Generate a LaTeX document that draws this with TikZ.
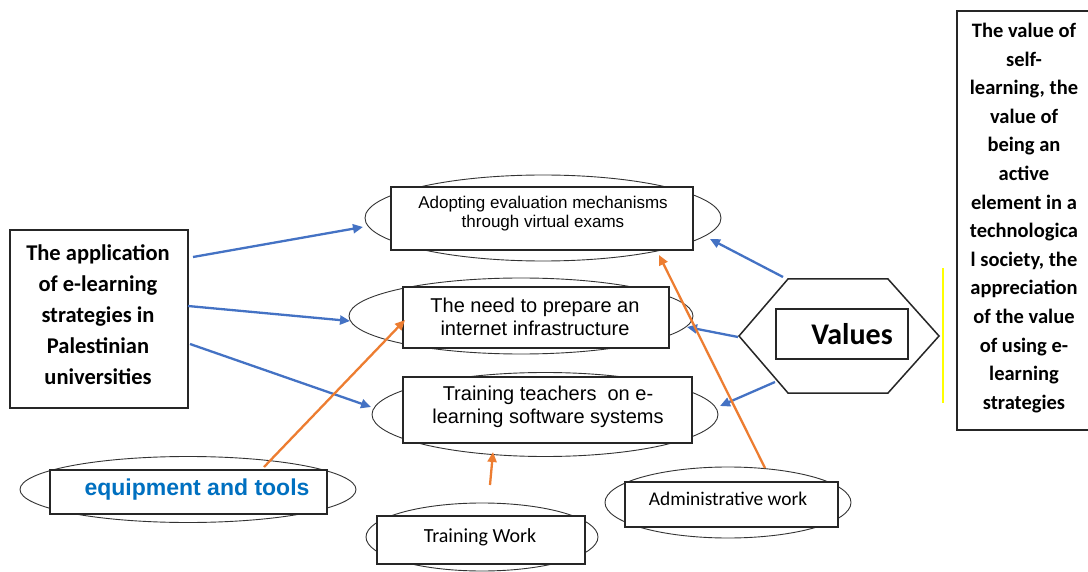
\documentclass[tikz,border=0pt]{standalone}
\usepackage{fontspec}
\newfontfamily\calfont{Carlito}
\newfontfamily\arfont{Liberation Sans}
\usetikzlibrary{shapes.geometric,arrows.meta}
\definecolor{arrowblue}{HTML}{4472C4}
\definecolor{arroworange}{HTML}{ED7D31}
\definecolor{toolblue}{HTML}{0070C0}
\definecolor{markyellow}{HTML}{FFFF00}
\begin{document}
\begin{tikzpicture}[x=1pt,y=-1pt,
  oval/.style={draw=black!80, line width=0.9pt, ellipse, inner sep=0pt},
  card/.style={draw=black!85, line width=1.2pt, fill=white, inner sep=0pt, align=center},
  txt/.style={inner sep=0pt, align=center},
  bluearrow/.style={draw=arrowblue, line width=2.3pt, -{Triangle[length=10pt,width=9pt]}},
  orangearrow/.style={draw=arroworange, line width=2.3pt, -{Triangle[length=10pt,width=9pt]}},
]
\useasboundingbox (0,0) rectangle (1088,572);
\fill[white] (0,0) rectangle (1088,572);

% left source box
\node[card, minimum width=178pt, minimum height=178pt] (app) at (99,319) {};
\node[txt, font=\calfont\bfseries\fontsize{22.5}{31}\selectfont] (apptxt) at (98,314.5)
  {The application\\of e-learning\\strategies in\\Palestinian\\universities};

% three central ovals
\node[oval, minimum width=356pt, minimum height=86pt] (evalov) at (543,218) {};
\node[card, minimum width=302pt, minimum height=63pt] (eval) at (542,218.5) {};
\node[txt, font=\arfont\fontsize{17}{19}\selectfont] (evaltxt) at (543,214)
  {Adopting evaluation mechanisms\\through virtual exams};

\node[oval, minimum width=344pt, minimum height=76pt] (netov) at (521,316) {};
\node[card, minimum width=266pt, minimum height=61pt] (net) at (536,317.5) {};
\node[txt, font=\arfont\fontsize{20}{23}\selectfont] (nettxt) at (535,316.5)
  {The need to prepare an\\internet infrastructure};

\node[oval, minimum width=346pt, minimum height=84pt] (trainov) at (545,414.5) {};
\node[card, minimum width=289pt, minimum height=66pt] (train) at (547.5,410) {};
\node[txt, font=\arfont\fontsize{20}{23}\selectfont] (traintxt) at (548,406.5)
  {Training teachers~ on e-\\learning software systems};

% bottom ovals
\node[oval, minimum width=336pt, minimum height=66pt] (toolov) at (188,489.5) {};
\node[card, minimum width=277pt, minimum height=44pt] (tool) at (188.5,492) {};
\node[txt, text=toolblue, font=\arfont\bfseries\fontsize{23}{26}\selectfont] (tooltxt) at (197,490) {equipment and tools};

\node[oval, minimum width=232pt, minimum height=68pt] (workov) at (482,537) {};
\node[card, minimum width=208pt, minimum height=48pt] (work) at (481,540) {};
\node[txt, font=\calfont\fontsize{20}{23}\selectfont] (worktxt) at (480,537) {Training Work};

\node[oval, minimum width=246pt, minimum height=71pt] (adminov) at (728,502.5) {};
\node[card, minimum width=213pt, minimum height=45pt] (admin) at (731.5,504.5) {};
\node[txt, font=\calfont\fontsize{19.4}{22}\selectfont] (admintxt) at (728,499) {Administrative work};

% values hexagon
\coordinate (hxl) at (739,336);
\coordinate (hxtl) at (788,279);
\coordinate (hxtr) at (888,279);
\coordinate (hxr) at (939,336);
\coordinate (hxbr) at (888,393);
\coordinate (hxbl) at (788,393);
\draw[black!85, line width=1.5pt, line join=miter] (hxl) -- (hxtl) -- (hxtr) -- (hxr) -- (hxbr) -- (hxbl) -- cycle;
\node[card, minimum width=132pt, minimum height=50pt] (values) at (842,334) {};
\node[txt, font=\calfont\bfseries\fontsize{30}{32}\selectfont] (valtxt) at (852,334) {Values};

% yellow marker line
\coordinate (ytop) at (943,268);
\coordinate (ybot) at (943,403);
\draw[markyellow, line width=1.3pt] (ytop) -- (ybot);

% right description box
\node[card, minimum width=135pt, minimum height=419pt] (desc) at (1024.5,220.5) {};
\node[txt, font=\calfont\bfseries\fontsize{20.5}{28.6}\selectfont] (desctxt) at (1024,218)
  {The value of\\self-\\learning, the\\value of\\being an\\active\\element in a\\technologica\\l society, the\\appreciation\\of the value\\of using e-\\learning\\strategies};

% connector end points
\coordinate (b1s) at (193,257);  \coordinate (b1e) at (363,227);
\coordinate (b2s) at (188,306);  \coordinate (b2e) at (350,321);
\coordinate (b3s) at (190,344);  \coordinate (b3e) at (371,407);
\coordinate (b4s) at (783,277);  \coordinate (b4e) at (710,239);
\coordinate (b5s) at (738,337);  \coordinate (b5e) at (687,327);
\coordinate (b6s) at (775,382);  \coordinate (b6e) at (720,406);
\coordinate (o1s) at (264,467);  \coordinate (o1e) at (405,320);
\coordinate (o2s) at (490,485);  \coordinate (o2e) at (493,452);
\coordinate (o3s) at (765,468);  \coordinate (o3e) at (659,255);

% blue connectors
\draw[bluearrow] (b1s) -- (b1e);
\draw[bluearrow] (b2s) -- (b2e);
\draw[bluearrow] (b3s) -- (b3e);
\draw[bluearrow] (b4s) -- (b4e);
\draw[bluearrow] (b5s) -- (b5e);
\draw[bluearrow] (b6s) -- (b6e);

% orange connectors
\draw[orangearrow] (o1s) -- (o1e);
\draw[orangearrow] (o2s) -- (o2e);
\draw[orangearrow] (o3s) -- (o3e);
\end{tikzpicture}
\end{document}
